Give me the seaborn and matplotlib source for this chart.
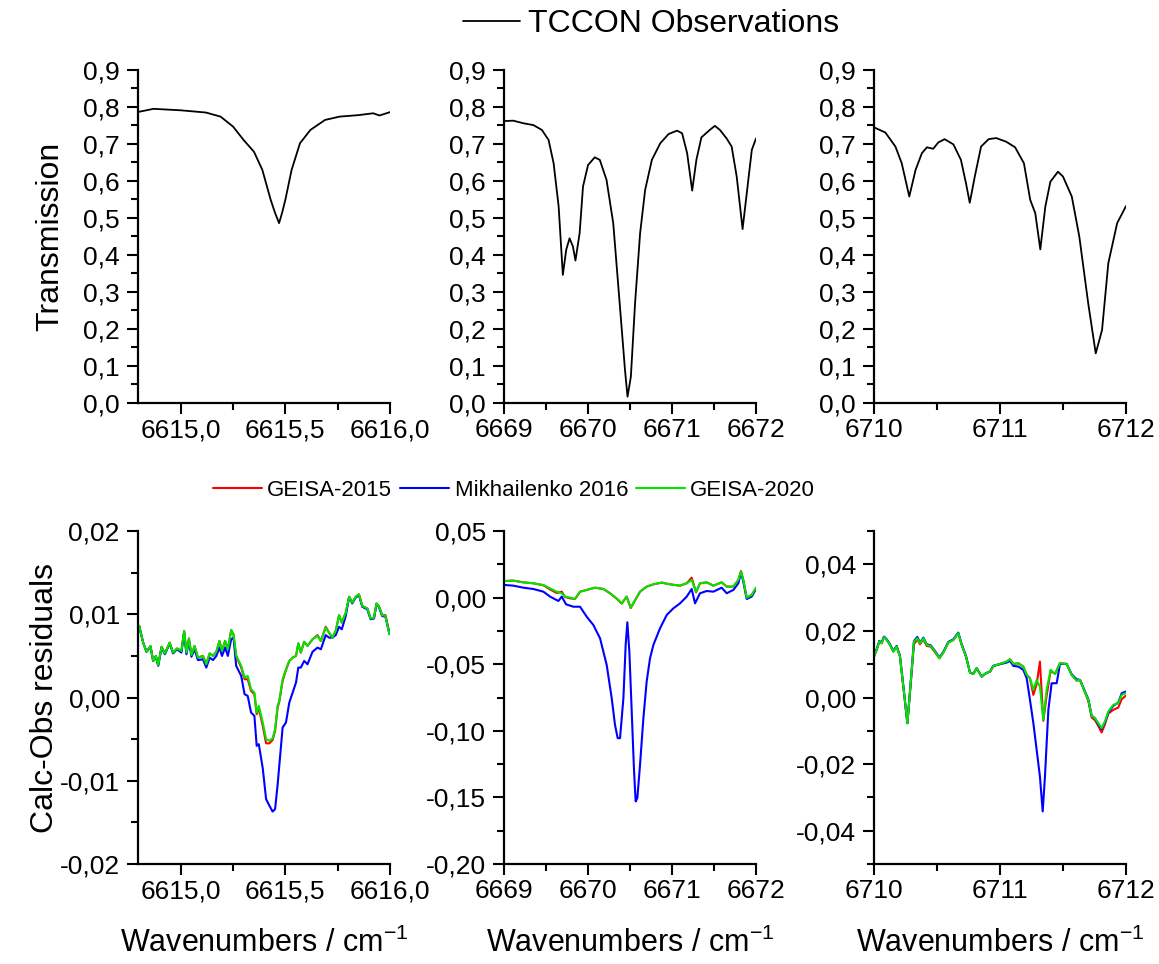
import seaborn as sns
import matplotlib.pyplot as plt
from matplotlib.ticker import MultipleLocator, FuncFormatter

# --- TCCON observed transmission, three windows ---
wn_obs_1 = [6614.80, 6614.87, 6615.00, 6615.12, 6615.19, 6615.25, 6615.30, 6615.35, 6615.39, 6615.43,
            6615.45, 6615.47, 6615.485, 6615.50, 6615.53, 6615.57, 6615.62, 6615.69, 6615.76, 6615.85,
            6615.92, 6615.95, 6616.00]
tr_obs_1 = [0.787, 0.795, 0.791, 0.785, 0.774, 0.747, 0.711, 0.679, 0.630, 0.549,
            0.515, 0.486, 0.515, 0.549, 0.630, 0.702, 0.738, 0.765, 0.774, 0.778,
            0.783, 0.777, 0.786]

wn_obs_2 = [6669.01, 6669.11, 6669.23, 6669.35, 6669.45, 6669.53, 6669.59, 6669.65, 6669.70, 6669.74,
            6669.78, 6669.82, 6669.85, 6669.90, 6669.94, 6670.00, 6670.08, 6670.14, 6670.22, 6670.30,
            6670.38, 6670.44, 6670.47, 6670.51, 6670.56, 6670.62, 6670.68, 6670.76, 6670.86, 6670.96,
            6671.06, 6671.12, 6671.18, 6671.24, 6671.29, 6671.35, 6671.45, 6671.51, 6671.57, 6671.65,
            6671.71, 6671.77, 6671.84, 6671.89, 6671.95, 6672.00]
tr_obs_2 = [0.762, 0.763, 0.756, 0.751, 0.738, 0.711, 0.648, 0.531, 0.346, 0.414,
            0.445, 0.423, 0.385, 0.459, 0.585, 0.643, 0.664, 0.657, 0.603, 0.486,
            0.260, 0.089, 0.017, 0.071, 0.270, 0.459, 0.576, 0.657, 0.702, 0.727,
            0.736, 0.729, 0.675, 0.574, 0.657, 0.718, 0.738, 0.749, 0.738, 0.715,
            0.693, 0.612, 0.470, 0.567, 0.684, 0.715]

wn_obs_3 = [6710.00, 6710.09, 6710.17, 6710.22, 6710.28, 6710.33, 6710.38, 6710.42, 6710.47, 6710.51,
            6710.56, 6710.63, 6710.69, 6710.73, 6710.76, 6710.80, 6710.85, 6710.91, 6710.97, 6711.05,
            6711.12, 6711.19, 6711.24, 6711.28, 6711.32, 6711.36, 6711.40, 6711.42, 6711.46, 6711.50,
            6711.57, 6711.63, 6711.70, 6711.76, 6711.81, 6711.86, 6711.93, 6712.00]
tr_obs_3 = [0.745, 0.731, 0.693, 0.648, 0.558, 0.630, 0.675, 0.691, 0.687, 0.704,
            0.713, 0.699, 0.657, 0.594, 0.541, 0.612, 0.693, 0.713, 0.716, 0.706,
            0.691, 0.648, 0.549, 0.513, 0.415, 0.531, 0.598, 0.607, 0.625, 0.612,
            0.558, 0.449, 0.270, 0.134, 0.197, 0.378, 0.486, 0.532]

# --- Calc-Obs residuals, window 1 (one grid for all three line lists) ---
wn_res_1 = [6614.801, 6614.820, 6614.836, 6614.855, 6614.868, 6614.881, 6614.892, 6614.908, 6614.924, 6614.947,
            6614.963, 6614.982, 6615.003, 6615.016, 6615.027, 6615.039, 6615.051, 6615.066, 6615.082, 6615.106,
            6615.122, 6615.138, 6615.154, 6615.170, 6615.185, 6615.197, 6615.212, 6615.225, 6615.241, 6615.252,
            6615.265, 6615.289, 6615.305, 6615.320, 6615.336, 6615.352, 6615.363, 6615.373, 6615.392, 6615.408,
            6615.424, 6615.439, 6615.451, 6615.463, 6615.471, 6615.487, 6615.503, 6615.519, 6615.535, 6615.551,
            6615.562, 6615.574, 6615.590, 6615.606, 6615.630, 6615.654, 6615.670, 6615.693, 6615.709, 6615.725,
            6615.741, 6615.757, 6615.770, 6615.789, 6615.805, 6615.820, 6615.836, 6615.852, 6615.868, 6615.892,
            6615.908, 6615.924, 6615.936, 6615.947, 6615.963, 6615.979, 6615.998]
geisa15_1 = [.0086, .0066, .0055, .0062, .0044, .0050, .0039, .0061, .0053, .0066,
             .0054, .0059, .0056, .0080, .0054, .0071, .0051, .0062, .0048, .0050,
             .0040, .0053, .0050, .0055, .0068, .0056, .0068, .0058, .0081, .0076,
             .0050, .0036, .0022, .0022, .0008, .0004, -.0020, -.0013, -.0034, -.0055,
             -.0055, -.0051, -.0040, -.0012, -.0005, .0020, .0033, .0044, .0048, .0050,
             .0065, .0054, .0067, .0062, .0070, .0075, .0068, .0085, .0078, .0072,
             .0080, .0099, .0090, .0102, .0121, .0114, .0121, .0124, .0110, .0107,
             .0095, .0096, .0113, .0110, .0099, .0099, .0077]
mikh16_1 = [.0086, .0066, .0055, .0061, .0044, .0049, .0038, .0060, .0052, .0065,
            .0053, .0058, .0054, .0078, .0052, .0068, .0049, .0058, .0045, .0046,
            .0036, .0048, .0045, .0050, .0060, .0050, .0060, .0050, .0070, .0072,
            .0038, .0026, .0004, .0002, -.0018, -.0022, -.0058, -.0056, -.0085, -.0122,
            -.0130, -.0137, -.0134, -.0105, -.0082, -.0036, -.0030, -.0006, .0006, .0018,
            .0036, .0036, .0044, .0040, .0055, .0060, .0058, .0075, .0072, .0072,
            .0075, .0085, .0082, .0098, .0121, .0113, .0120, .0123, .0109, .0106,
            .0094, .0095, .0112, .0109, .0098, .0097, .0076]
geisa20_1 = [.0086, .0066, .0055, .0062, .0044, .0050, .0039, .0061, .0053, .0066,
             .0054, .0059, .0056, .0080, .0054, .0071, .0051, .0062, .0048, .0050,
             .0040, .0053, .0050, .0055, .0068, .0056, .0068, .0058, .0081, .0076,
             .0050, .0038, .0024, .0026, .0010, .0006, -.0018, -.0010, -.0030, -.0050,
             -.0052, -.0049, -.0038, -.0010, -.0004, .0022, .0034, .0044, .0048, .0050,
             .0065, .0054, .0067, .0062, .0070, .0074, .0068, .0084, .0078, .0072,
             .0080, .0099, .0090, .0102, .0121, .0114, .0121, .0124, .0110, .0107,
             .0095, .0096, .0113, .0110, .0099, .0098, .0076]

# --- residuals, window 2 ---
wn_res_2 = [6669.012, 6669.111, 6669.230, 6669.349, 6669.468, 6669.548, 6669.627, 6669.687, 6669.726, 6669.786,
            6669.845, 6669.905, 6669.984, 6670.083, 6670.183, 6670.262, 6670.341, 6670.401, 6670.460, 6670.508,
            6670.560, 6670.619, 6670.698, 6670.778, 6670.877, 6670.976, 6671.095, 6671.175, 6671.234, 6671.286,
            6671.333, 6671.413, 6671.492, 6671.591, 6671.651, 6671.730, 6671.790, 6671.821, 6671.849, 6671.889,
            6671.948, 6672.000]
geisa15_2 = [.0125, .0128, .0115, .0108, .0093, .0062, .0035, .0045, .0005, -.0005,
             -.0010, .0045, .0058, .0075, .0065, .0033, -.0008, -.0045, .0008, -.0078,
             -.0020, .0045, .0083, .0100, .0113, .0100, .0090, .0108, .0150, .0040,
             .0108, .0115, .0090, .0115, .0083, .0083, .0133, .0200, .0130, .0000,
             .0018, .0073]
geisa20_2 = [.0125, .0128, .0115, .0108, .0095, .0070, .0045, .0033, .0008, .0000,
             -.0010, .0045, .0058, .0075, .0065, .0033, -.0005, -.0043, .0008, -.0075,
             -.0018, .0045, .0083, .0100, .0113, .0100, .0090, .0108, .0133, .0045,
             .0108, .0115, .0090, .0115, .0083, .0083, .0133, .0195, .0133, .0000,
             .0020, .0075]
wn_mikh_2 = [6669.012, 6669.111, 6669.230, 6669.349, 6669.468, 6669.548, 6669.647, 6669.687, 6669.738, 6669.825,
             6669.905, 6669.984, 6670.063, 6670.143, 6670.222, 6670.282, 6670.321, 6670.353, 6670.381, 6670.421,
             6670.448, 6670.468, 6670.492, 6670.520, 6670.548, 6670.567, 6670.587, 6670.619, 6670.659, 6670.698,
             6670.738, 6670.778, 6670.857, 6670.937, 6671.016, 6671.095, 6671.175, 6671.234, 6671.274, 6671.333,
             6671.413, 6671.492, 6671.591, 6671.651, 6671.730, 6671.790, 6671.821, 6671.849, 6671.889, 6671.948,
             6672.000]
mikh16_2 = [.0095, .0090, .0075, .0065, .0045, .0008, -.0025, .0008, -.0050, -.0068,
            -.0068, -.0143, -.0205, -.0305, -.0505, -.0755, -.0955, -.1055, -.1055, -.0755,
            -.0355, -.0185, -.0405, -.0855, -.1305, -.1530, -.1505, -.1255, -.0905, -.0630,
            -.0455, -.0355, -.0230, -.0130, -.0080, -.0043, .0008, .0065, -.0043, .0033,
            .0050, .0045, .0075, .0033, .0058, .0108, .0190, .0120, -.0010, .0008,
            .0065]

# --- residuals, window 3 ---
wn_res_3 = [6710.000, 6710.021, 6710.042, 6710.061, 6710.079, 6710.101, 6710.127, 6710.153, 6710.180, 6710.206,
            6710.233, 6710.265, 6710.291, 6710.317, 6710.344, 6710.365, 6710.392, 6710.418, 6710.450, 6710.484,
            6710.519, 6710.550, 6710.590, 6710.630, 6710.669, 6710.696, 6710.730, 6710.762, 6710.788, 6710.815,
            6710.854, 6710.889, 6710.921, 6710.947, 6711.000, 6711.053, 6711.079, 6711.106, 6711.146, 6711.185,
            6711.212, 6711.238, 6711.265, 6711.291, 6711.317, 6711.344, 6711.370, 6711.402, 6711.437, 6711.476,
            6711.529, 6711.569, 6711.608, 6711.635, 6711.667, 6711.701, 6711.728, 6711.754, 6711.780, 6711.807,
            6711.833, 6711.860, 6711.899, 6711.939, 6711.966, 6711.997]
geisa15_3 = [.0123, .0143, .0168, .0163, .0181, .0173, .0158, .0138, .0153, .0123,
             .0033, -.0077, .0040, .0160, .0175, .0160, .0175, .0155, .0153, .0136,
             .0118, .0135, .0165, .0173, .0193, .0158, .0123, .0075, .0071, .0088,
             .0063, .0073, .0078, .0095, .0101, .0108, .0115, .0101, .0103, .0093,
             .0068, .0058, .0008, .0040, .0108, -.0070, .0005, .0080, .0071, .0103,
             .0101, .0068, .0051, .0053, .0023, -.0010, -.0060, -.0068, -.0085, -.0105,
             -.0080, -.0048, -.0037, -.0030, -.0005, .0005]
geisa20_3 = [.0123, .0143, .0168, .0163, .0181, .0173, .0158, .0138, .0153, .0123,
             .0033, -.0077, .0043, .0168, .0178, .0163, .0178, .0158, .0155, .0138,
             .0118, .0135, .0165, .0173, .0193, .0158, .0123, .0075, .0071, .0088,
             .0063, .0073, .0078, .0095, .0101, .0108, .0115, .0101, .0103, .0093,
             .0068, .0058, .0023, .0053, .0033, -.0067, .0023, .0083, .0071, .0103,
             .0101, .0068, .0051, .0053, .0023, -.0007, -.0055, -.0062, -.0077, -.0092,
             -.0072, -.0042, -.0022, -.0017, .0008, .0013]
wn_mikh_3 = [6710.000, 6710.021, 6710.042, 6710.061, 6710.079, 6710.101, 6710.127, 6710.153, 6710.180, 6710.206,
             6710.233, 6710.265, 6710.291, 6710.317, 6710.344, 6710.365, 6710.392, 6710.418, 6710.450, 6710.484,
             6710.519, 6710.550, 6710.590, 6710.630, 6710.669, 6710.696, 6710.730, 6710.762, 6710.788, 6710.815,
             6710.854, 6710.889, 6710.921, 6710.947, 6711.000, 6711.053, 6711.079, 6711.106, 6711.146,
             6711.185, 6711.212, 6711.238, 6711.265, 6711.291, 6711.317, 6711.339, 6711.357, 6711.384, 6711.410,
             6711.450, 6711.476,
             6711.529, 6711.569, 6711.608, 6711.635, 6711.667, 6711.701, 6711.728, 6711.754, 6711.780, 6711.807,
             6711.833, 6711.860, 6711.899, 6711.939, 6711.966, 6711.997]
mikh16_3 = [.0125, .0145, .0170, .0165, .0183, .0175, .0160, .0140, .0155, .0125,
            .0033, -.0077, .0043, .0170, .0182, .0165, .0180, .0160, .0157, .0140,
            .0120, .0137, .0167, .0175, .0195, .0160, .0125, .0075, .0071, .0088,
            .0063, .0073, .0078, .0095, .0100, .0105, .0110, .0095, .0093,
            .0083, .0058, -.0007, -.0077, -.0157, -.0237, -.0342, -.0237, -.0037, .0043,
            .0043, .0101,
            .0101, .0070, .0055, .0053, .0025, -.0005, -.0055, -.0062, -.0080, -.0095,
            -.0075, -.0045, -.0025, -.0015, .0013, .0018]

label_geisa15 = "GEISA-2015"
label_mikh16 = "Mikhailenko 2016"
label_geisa20 = "GEISA-2020"
label_obs = "TCCON Observations"


def comma_fmt(decimals):
    # decimal comma, like the original figure
    def f(v, pos):
        if abs(v) < 1e-9:
            v = 0.0
        return f"{v:.{decimals}f}".replace('.', ',')
    return FuncFormatter(f)


def style_axis(ax, xlim, xmaj, xmin, xdec, ylim, ymaj, ymin, ydec):
    ax.set_xlim(*xlim)
    ax.set_ylim(*ylim)
    ax.xaxis.set_major_locator(MultipleLocator(xmaj))
    ax.xaxis.set_minor_locator(MultipleLocator(xmin))
    ax.yaxis.set_major_locator(MultipleLocator(ymaj))
    ax.yaxis.set_minor_locator(MultipleLocator(ymin))
    ax.xaxis.set_major_formatter(comma_fmt(xdec))
    ax.yaxis.set_major_formatter(comma_fmt(ydec))
    ax.tick_params(which='major', length=8, width=1.5, labelsize=19, color='black')
    ax.tick_params(which='minor', length=5, width=1.5, color='black')
    ax.tick_params(axis='x', which='major', pad=3)
    ax.tick_params(axis='y', which='major', pad=5)
    for s in ['left', 'bottom']:
        ax.spines[s].set_linewidth(1.6)
        ax.spines[s].set_color('black')
    sns.despine(ax=ax)
    ax.set_xlabel('')
    ax.set_ylabel('')


sns.set_theme(style="ticks")
plt.rcParams['font.family'] = ['Liberation Sans', 'DejaVu Sans']
plt.rcParams['mathtext.default'] = 'regular'
for k in ['text.color', 'axes.labelcolor', 'xtick.color', 'ytick.color', 'axes.edgecolor']:
    plt.rcParams[k] = 'black'

fig = plt.figure(figsize=(11.59, 9.64), dpi=100)

lefts = [0.119, 0.4349, 0.7541]
w, h = 0.2174, 0.3454
top_axes = [fig.add_axes([l, 0.582, w, h]) for l in lefts]
bot_axes = [fig.add_axes([l, 0.1037, w, h]) for l in lefts]

# top row: observations
obs = [(wn_obs_1, tr_obs_1), (wn_obs_2, tr_obs_2), (wn_obs_3, tr_obs_3)]
for i, (ax, (x, y)) in enumerate(zip(top_axes, obs)):
    sns.lineplot(x=x, y=y, ax=ax, color='black', linewidth=1.3, sort=False,
                 estimator=None, legend=False, label=label_obs if i == 1 else None)

style_axis(top_axes[0], (6614.795, 6616.0), 0.5, 0.25, 1, (0, 0.9), 0.1, 0.05, 1)
style_axis(top_axes[1], (6669, 6672), 1, 0.5, 0, (0, 0.9), 0.1, 0.05, 1)
style_axis(top_axes[2], (6710, 6712), 1, 0.5, 0, (0, 0.9), 0.1, 0.05, 1)

# bottom row: residuals
res = [
    (wn_res_1, geisa15_1, wn_res_1, mikh16_1, wn_res_1, geisa20_1),
    (wn_res_2, geisa15_2, wn_mikh_2, mikh16_2, wn_res_2, geisa20_2),
    (wn_res_3, geisa15_3, wn_mikh_3, mikh16_3, wn_res_3, geisa20_3),
]
for ax, (x15, y15, xm, ym, x20, y20) in zip(bot_axes, res):
    sns.lineplot(x=x15, y=y15, ax=ax, color='#ff0000', linewidth=1.5, sort=False,
                 estimator=None, legend=False, label=label_geisa15)
    sns.lineplot(x=xm, y=ym, ax=ax, color='#0000ff', linewidth=1.5, sort=False,
                 estimator=None, legend=False, label=label_mikh16)
    sns.lineplot(x=x20, y=y20, ax=ax, color='#00e600', linewidth=1.5, sort=False,
                 estimator=None, legend=False, label=label_geisa20)

style_axis(bot_axes[0], (6614.795, 6616.0), 0.5, 0.25, 1, (-0.02, 0.02), 0.01, 0.005, 2)
style_axis(bot_axes[1], (6669, 6672), 1, 0.5, 0, (-0.20, 0.05), 0.05, 0.025, 2)
style_axis(bot_axes[2], (6710, 6712), 1, 0.5, 0, (-0.05, 0.05), 0.02, 0.01, 2)

# axis labels
top_axes[0].set_ylabel("Transmission", fontsize=23)
top_axes[0].yaxis.set_label_coords(-0.29, 0.5)
bot_axes[0].set_ylabel("Calc-Obs residuals", fontsize=23)
bot_axes[0].yaxis.set_label_coords(-0.31, 0.5)
for ax in bot_axes:
    ax.set_xlabel("Wavenumbers / cm$^{-1}$", fontsize=22)
    ax.xaxis.set_label_coords(0.5, -0.19)

# legends
h_obs, l_obs = top_axes[1].get_legend_handles_labels()
fig.legend(h_obs, l_obs, loc='center', bbox_to_anchor=(0.5617, 0.975), frameon=False,
           fontsize=23, handlelength=1.8, handletextpad=0.25)
h_res, l_res = bot_axes[0].get_legend_handles_labels()
fig.legend(h_res, l_res, loc='center', bbox_to_anchor=(0.4435, 0.4917), frameon=False,
           fontsize=16, ncol=3, handlelength=2.2, handletextpad=0.25, columnspacing=0.35)

fig.savefig("out.png", dpi=100)
